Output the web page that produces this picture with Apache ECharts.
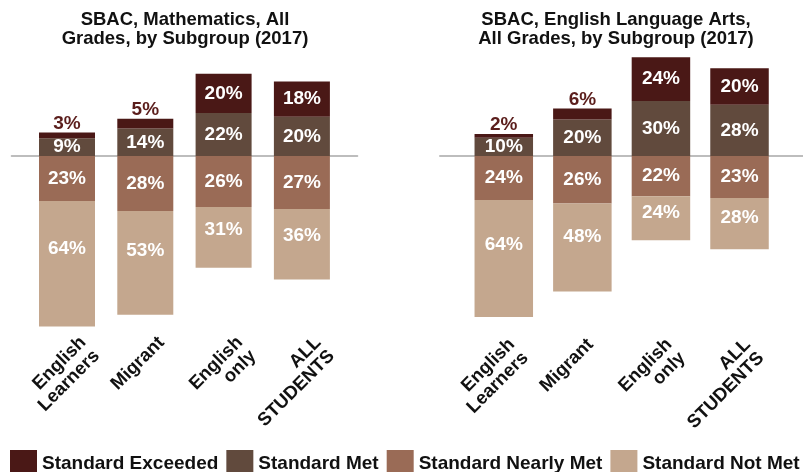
<!DOCTYPE html>
<html>
<head>
<meta charset="utf-8">
<script src="https://cdn.jsdelivr.net/npm/echarts@6/dist/echarts.min.js"></script>
<style>
html,body{margin:0;padding:0;background:#fff;}
#chart{width:803px;height:472px;}
</style>
</head>
<body>
<div id="chart"></div>
<script>
// ---- data ----
const categories = ['English\nLearners', 'Migrant', 'English\nonly', 'ALL\nSTUDENTS'];
const seriesNames = ['Standard Exceeded', 'Standard Met', 'Standard Nearly Met', 'Standard Not Met'];
const titles = ['SBAC, Mathematics, All\nGrades, by Subgroup (2017)', 'SBAC, English Language Arts,\nAll Grades, by Subgroup (2017)'];

const mathExceeded = [3, 5, 20, 18];
const mathMet = [9, 14, 22, 20];
const mathNearlyMet = [23, 28, 26, 27];
const mathNotMet = [64, 53, 31, 36];

const elaExceeded = [2, 6, 24, 20];
const elaMet = [10, 20, 30, 28];
const elaNearlyMet = [24, 26, 22, 23];
const elaNotMet = [64, 48, 24, 28];

// ---- styling ----
const colors = {
  'Standard Exceeded': '#4a1816',
  'Standard Met': '#614a3d',
  'Standard Nearly Met': '#9a6b56',
  'Standard Not Met': '#c4a78e'
};
const FONT = '"Liberation Sans", Arial, Helvetica, sans-serif';
const panels = [
  { values: { 'Standard Exceeded': mathExceeded, 'Standard Met': mathMet, 'Standard Nearly Met': mathNearlyMet, 'Standard Not Met': mathNotMet },
    barGrid: { left: 27.85, width: 313.2, top: 38.4, height: 313.6 },
    lineGrid: { left: 11.7, width: 345.6, top: 156, height: 169 },
    xmin: -0.706, xmax: 3.706, labelShift: 0.12, barWidth: 56, titleX: 185 },
  { values: { 'Standard Exceeded': elaExceeded, 'Standard Met': elaMet, 'Standard Nearly Met': elaNearlyMet, 'Standard Not Met': elaNotMet },
    barGrid: { left: 464.5, width: 314.3, top: 46.2, height: 292.8 },
    lineGrid: { left: 440, width: 363, top: 156, height: 171 },
    xmin: -0.81, xmax: 3.81, labelShift: 0.02, barWidth: 58.5, titleX: 616 }
];

const grids = [], xAxes = [], yAxes = [], series = [], titleOpts = [];
panels.forEach((p, pi) => {
  const gBar = grids.length;
  grids.push(Object.assign({ outerBoundsMode: 'none', containLabel: false }, p.barGrid));
  const gLine = grids.length;
  grids.push(Object.assign({ outerBoundsMode: 'none', containLabel: false }, p.lineGrid));

  titleOpts.push({
    text: titles[pi], left: p.titleX, top: 10, textAlign: 'center', padding: 0,
    textStyle: { fontFamily: FONT, fontSize: 18.5, fontWeight: 'bold', color: '#111', lineHeight: 19.5 }
  });

  // bar axes
  const xBar = xAxes.length;
  xAxes.push({ type: 'category', gridIndex: gBar, data: categories, show: false });
  const yBar = yAxes.length;
  yAxes.push({ type: 'value', gridIndex: gBar, min: -100, max: 60, show: false, splitLine: { show: false } });

  // baseline (top axis of the line grid) and category labels (bottom axis of the line grid)
  xAxes.push({
    type: 'value', gridIndex: gLine, position: 'top', min: p.xmin, max: p.xmax,
    axisLine: { show: true, onZero: false, lineStyle: { color: '#bdbdbd', width: 2 } },
    axisTick: { show: false }, splitLine: { show: false }, axisLabel: { show: false }
  });
  xAxes.push({
    type: 'value', gridIndex: gLine, position: 'bottom', min: p.xmin, max: p.xmax,
    axisLine: { show: false, onZero: false }, axisTick: { show: false }, splitLine: { show: false },
    axisLabel: {
      customValues: categories.map((c, i) => i + p.labelShift),
      formatter: v => categories[Math.round(v)] || '',
      rotate: 45, align: 'right', verticalAlign: 'top', margin: 8,
      fontFamily: FONT, fontSize: 18.5, fontWeight: 'bold', color: '#111', lineHeight: 19
    }
  });
  yAxes.push({ type: 'value', gridIndex: gLine, min: 0, max: 1, show: false, splitLine: { show: false } });

  const order = ['Standard Met', 'Standard Exceeded', 'Standard Nearly Met', 'Standard Not Met'];
  order.forEach(name => {
    const neg = name === 'Standard Nearly Met' || name === 'Standard Not Met';
    const vals = p.values[name];
    series.push({
      name, type: 'bar', xAxisIndex: xBar, yAxisIndex: yBar, stack: 'p' + pi,
      barWidth: p.barWidth,
      itemStyle: { color: colors[name] },
      data: vals.map(v => {
        const item = { value: neg ? -v : v };
        if (name === 'Standard Exceeded' && v < 10) {
          item.label = { position: 'top', color: '#5b1e1c', distance: 9 };
        }
        return item;
      }),
      label: {
        show: true,
        position: name === 'Standard Not Met' ? ['50%', '38%'] : 'inside',
        align: 'center', verticalAlign: 'middle',
        formatter: prm => Math.abs(prm.value) + '%',
        fontFamily: FONT, fontSize: 19, fontWeight: 'bold', color: '#fff'
      },
      emphasis: { disabled: true },
      animation: false
    });
  });
});

const chart = echarts.init(document.getElementById('chart'), null, { renderer: 'canvas' });
chart.setOption({
  backgroundColor: '#fff',
  animation: false,
  title: titleOpts,
  legend: {
    data: seriesNames, left: 5, top: 445, width: 1200, icon: 'rect', itemWidth: 27, itemHeight: 27, itemGap: 8,
    textStyle: { fontFamily: FONT, fontSize: 19, fontWeight: 'bold', color: '#111' },
    selectedMode: false
  },
  grid: grids, xAxis: xAxes, yAxis: yAxes, series
});
</script>
</body>
</html>
